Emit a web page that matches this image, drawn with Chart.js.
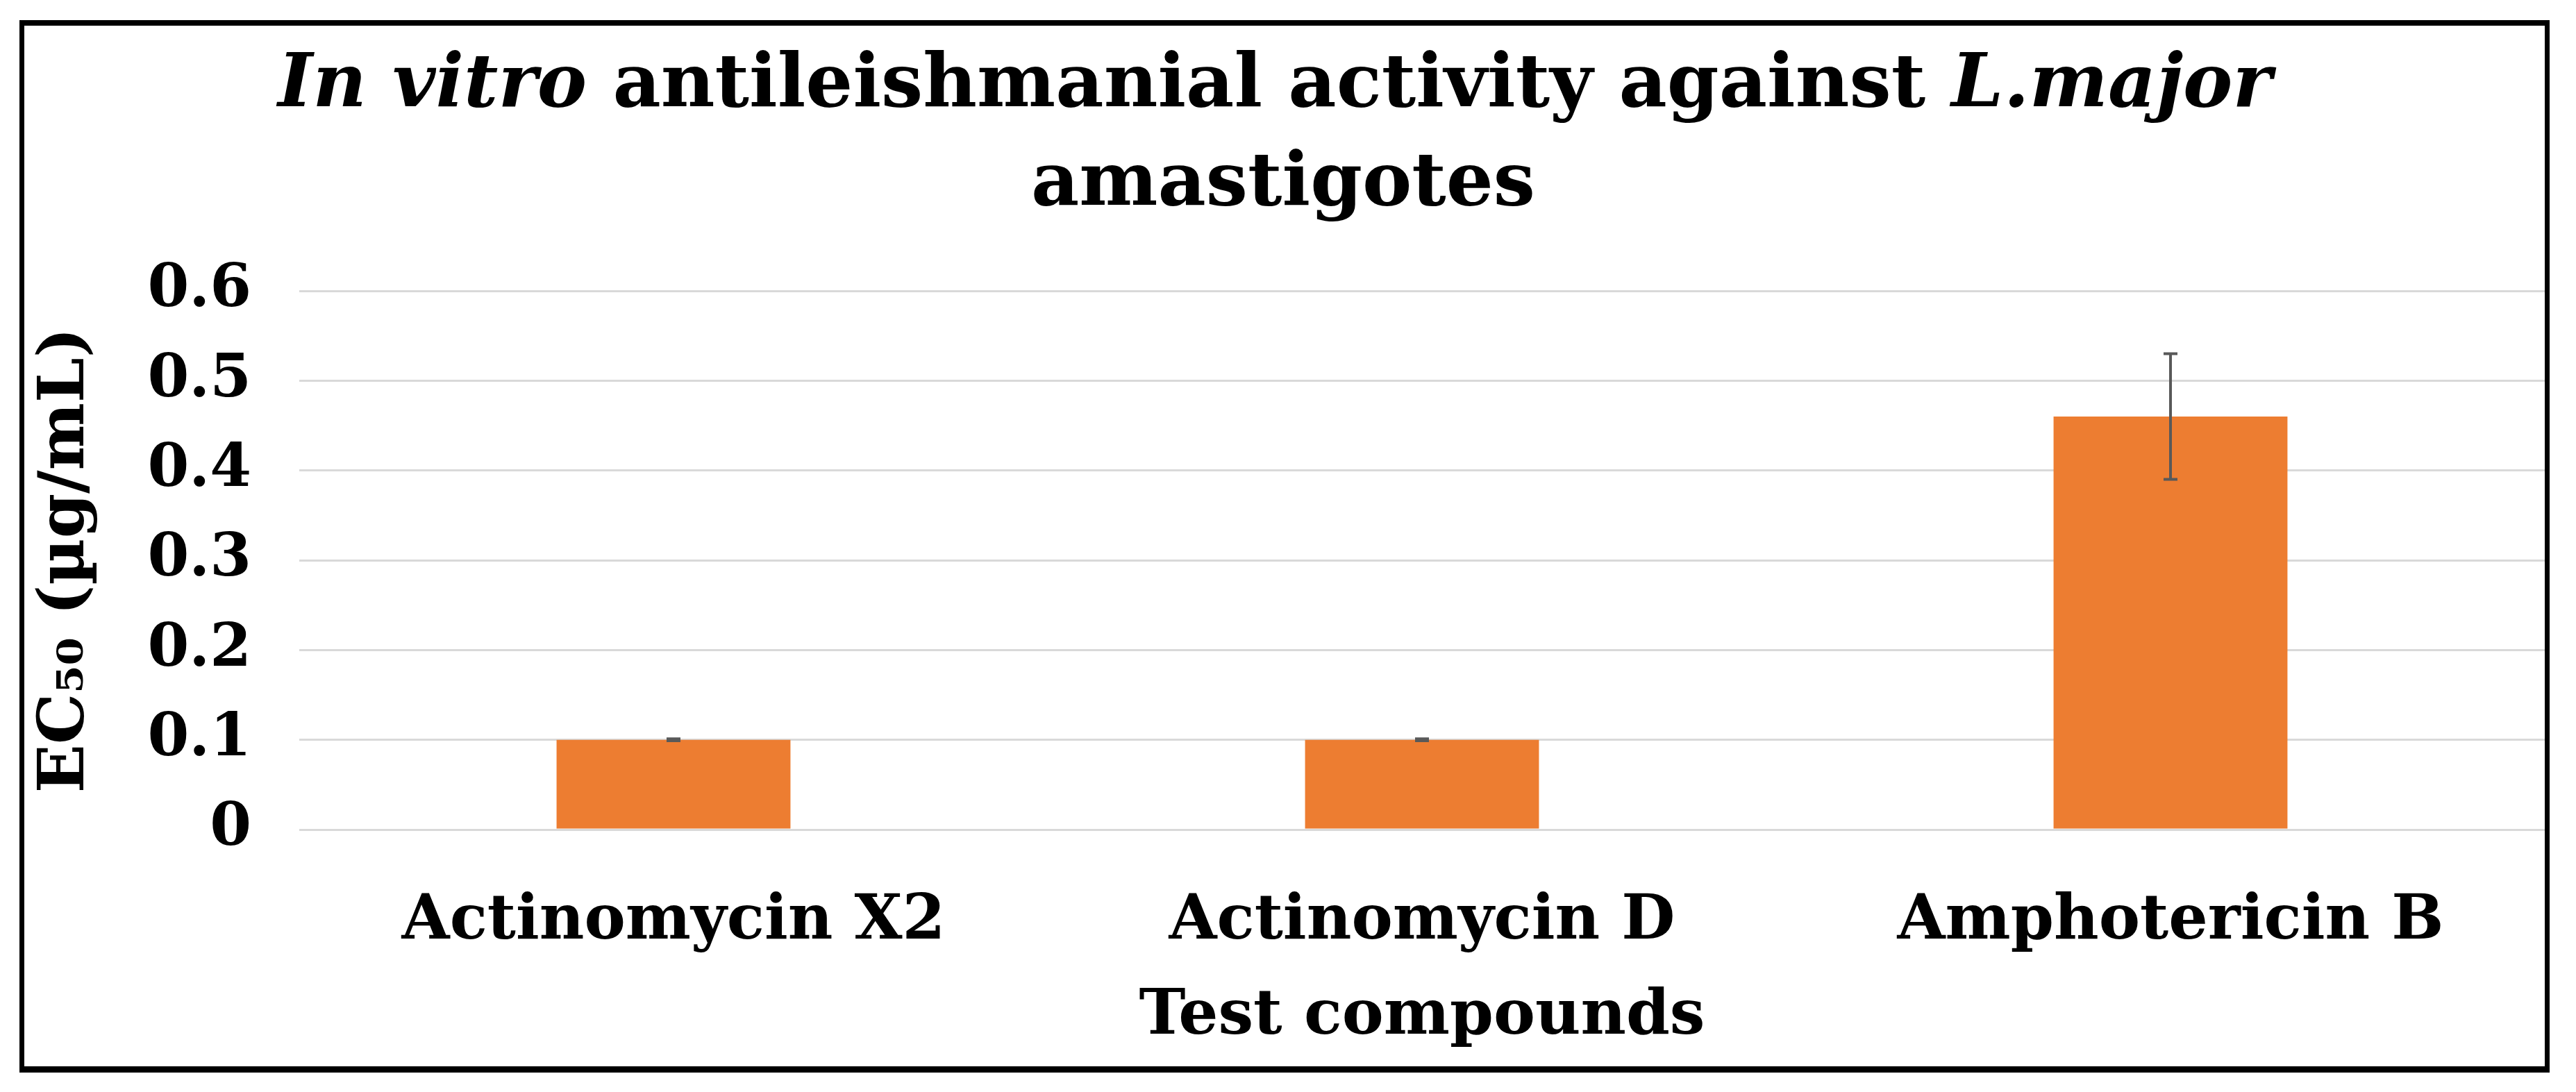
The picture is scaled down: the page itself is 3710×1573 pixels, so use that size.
<!DOCTYPE html>
<html>
<head>
<meta charset="utf-8">
<script src="https://cdn.jsdelivr.net/npm/chart.js@4.4.0/dist/chart.umd.min.js"></script>
<style>
html,body{margin:0;padding:0;background:#fff;}
#wrap{width:3710px;height:1573px;position:relative;}
canvas{display:block;}
</style>
</head>
<body>
<div id="wrap"><canvas id="c" width="3710" height="1573"></canvas></div>
<script>
// ---- data ----
const categories = ['Actinomycin X2', 'Actinomycin D', 'Amphotericin B'];
const ec50Values = [0.1, 0.1, 0.46];
const ec50Errors = [0.001, 0.001, 0.07];
const yTicks = [0, 0.1, 0.2, 0.3, 0.4, 0.5, 0.6];
const yTickLabels = ['0', '0.1', '0.2', '0.3', '0.4', '0.5', '0.6'];
const titleLine1 = [['In vitro', true], [' antileishmanial activity against ', false], ['L.major', true]];
const titleLine2 = [['amastigotes', false]];
const yAxisTitle = 'EC\u2085\u2080 (\u00B5g/mL)';
const xAxisTitle = 'Test compounds';

const FAMILY = '"DejaVu Serif", "Liberation Serif", serif';

const bgPlugin = {
  id: 'bg',
  beforeDraw(chart) {
    const c = chart.ctx;
    c.save();
    c.fillStyle = '#fff';
    c.fillRect(0, 0, chart.width, chart.height);
    c.restore();
  }
};

const framePlugin = {
  id: 'frame',
  afterDraw(chart) {
    const c = chart.ctx;
    c.save();
    c.fillStyle = '#000';
    const L = 28, T = 29, R = 3672, B = 1545, w = 7;
    c.fillRect(L, T, R - L, w + 1);
    c.fillRect(L, B - w - 2, R - L, w + 2);
    c.fillRect(L, T, w, B - T);
    c.fillRect(R - w, T, w, B - T);
    c.restore();
  }
};

function drawMixedLine(c, segs, cx, y, size) {
  let total = 0;
  const fonts = segs.map(([t, it]) => (it ? 'italic ' : '') + 'bold ' + size + 'px ' + FAMILY);
  segs.forEach(([t], i) => { c.font = fonts[i]; total += c.measureText(t).width; });
  let x = cx - total / 2;
  segs.forEach(([t], i) => {
    c.font = fonts[i];
    c.fillText(t, x, y);
    x += c.measureText(t).width;
  });
}

const titlePlugin = {
  id: 'mixedTitle',
  afterDraw(chart) {
    const c = chart.ctx;
    c.save();
    c.fillStyle = '#000';
    c.textBaseline = 'alphabetic';
    c.textAlign = 'left';
    drawMixedLine(c, titleLine1, 1836, 153, 107);
    drawMixedLine(c, titleLine2, 1848, 295, 107);
    c.restore();
  }
};

const errorBarPlugin = {
  id: 'errorBars',
  afterDatasetsDraw(chart) {
    const c = chart.ctx;
    const meta = chart.getDatasetMeta(0);
    const ys = chart.scales.y;
    c.save();
    c.strokeStyle = '#595959';
    c.lineWidth = 4;
    meta.data.forEach((bar, i) => {
      const v = ec50Values[i], e = ec50Errors[i];
      const x = bar.x;
      const yT = ys.getPixelForValue(v + e);
      const yB = ys.getPixelForValue(v - e);
      c.beginPath();
      c.moveTo(x, yT); c.lineTo(x, yB);
      c.moveTo(x - 10, yT); c.lineTo(x + 10, yT);
      c.moveTo(x - 10, yB); c.lineTo(x + 10, yB);
      c.stroke();
    });
    c.restore();
  }
};

new Chart(document.getElementById('c').getContext('2d'), {
  type: 'bar',
  data: {
    labels: categories,
    datasets: [{
      data: ec50Values,
      backgroundColor: '#ED7D31',
      borderWidth: 0,
      categoryPercentage: 1,
      barPercentage: 0.3125
    }]
  },
  options: {
    responsive: false,
    animation: false,
    devicePixelRatio: 1,
    layout: { padding: { top: 419, right: 45, left: 0, bottom: 0 } },
    plugins: {
      legend: { display: false },
      tooltip: { enabled: false },
      title: { display: false }
    },
    scales: {
      x: {
        grid: { display: false, drawTicks: false },
        border: { display: false },
        ticks: {
          color: '#000',
          padding: 80,
          font: { family: FAMILY, weight: 'bold', size: 89 }
        },
        title: {
          display: true,
          text: xAxisTitle,
          color: '#000',
          font: { family: FAMILY, weight: 'bold', size: 90 },
          padding: { top: 0, bottom: 53 }
        },
        afterFit(s) { s.height = 378; }
      },
      y: {
        min: 0,
        max: 0.6,
        afterBuildTicks(s) { s.ticks = yTicks.map(v => ({ value: v })); },
        grid: { color: '#D9D9D9', lineWidth: 3, drawTicks: false },
        border: { display: false },
        ticks: {
          color: '#000',
          padding: 69,
          font: { family: FAMILY, weight: 'bold', size: 86 },
          callback(v) { const i = yTicks.findIndex(t => Math.abs(t - v) < 1e-9); return i >= 0 ? yTickLabels[i] : ''; }
        },
        title: {
          display: true,
          text: yAxisTitle,
          color: '#000',
          font: { family: FAMILY, weight: 'bold', size: 92 },
          padding: { top: 41, bottom: 0 }
        },
        afterFit(s) { s.width = 431; }
      }
    }
  },
  plugins: [bgPlugin, errorBarPlugin, titlePlugin, framePlugin]
});
</script>
</body>
</html>
